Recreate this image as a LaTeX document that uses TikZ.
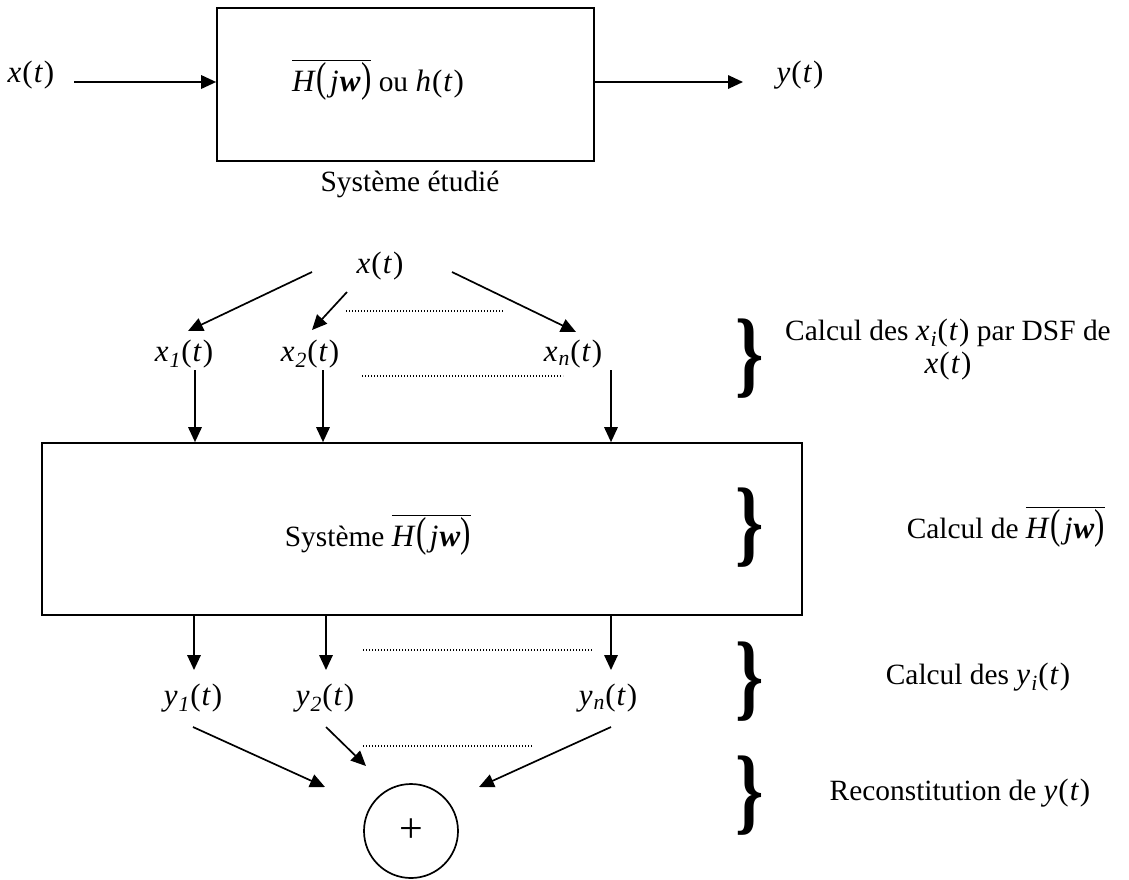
\documentclass[tikz,border=0pt]{standalone}
\usepackage{graphicx}
\usepackage{fontspec}
\setmainfont{Liberation Serif}
\usetikzlibrary{arrows.meta}
\newcommand{\mfs}{\fontsize{31}{36}\selectfont}
\newcommand{\Hjw}{\ensuremath{\overline{\hbox{\mfs\textit{H}\kern1pt\scalebox{1}[1.35]{(}\kern3pt\textit{j}\kern1pt\textbf{\textit{w}}\kern0.5pt\scalebox{1}[1.35]{)}}}}}
\newcommand{\vt}[1]{{\mfs\textit{#1}\kern1pt(\kern1pt\textit{t}\kern1pt)}}
\newcommand{\vs}[2]{{\mfs\textit{#1}\kern1pt\textsubscript{\textit{#2}}\kern0.5pt(\kern1pt\textit{t}\kern1pt)}}
\begin{document}
\begin{tikzpicture}[x=1pt,y=-1pt,font=\fontsize{29.4}{33}\selectfont,
  arr/.style={-{Triangle[length=15pt,width=13.5pt]},line width=1.7pt},
  boxs/.style={draw,line width=1.7pt,inner sep=0pt},
  dots/.style={line width=1.1pt,dash pattern=on 1.1pt off 1.9pt},
  brace/.style={inner sep=0pt,font=\fontsize{96}{96}\selectfont\bfseries},
  lbl/.style={inner sep=1pt}]
\useasboundingbox (0,0) rectangle (1129,879);
% top part
\node[lbl] (x0) at (31,75) {\vt{x}};
\node[boxs,minimum width=377pt,minimum height=153pt] (sys) at (405.5,84.5) {};
\node[lbl] (sysl) at (378,80) {\Hjw{} ou \vt{h}};
\node[lbl] (y0) at (800,75) {\vt{y}};
\node[lbl] (cap) at (410,184) {Système étudié};
\coordinate (a0) at (74,82);
\coordinate (a1) at (743,82);
\draw[arr] (a0) -- (a0 -| sys.west);
\draw[arr] (a1 -| sys.east) -- (a1);
% decomposition
\node[lbl] (x) at (380,266) {\vt{x}};
\node[lbl] (x1) at (184,354) {\vs{x}{1}};
\node[lbl] (x2) at (310,354) {\vs{x}{2}};
\node[lbl] (xn) at (573,354) {\vs{x}{n}};
\coordinate (p1) at (312,272); \coordinate (q1) at (188,331);
\coordinate (p2) at (347,292); \coordinate (q2) at (312,330);
\coordinate (p3) at (452,272); \coordinate (q3) at (576,332);
\draw[arr] (p1) -- (q1);
\draw[arr] (p2) -- (q2);
\draw[arr] (p3) -- (q3);
\coordinate (d1a) at (346,311); \coordinate (d1b) at (503,311);
\draw[dots] (d1a) -- (d1b);
% big system
\node[boxs,minimum width=760pt,minimum height=172pt] (big) at (422,529) {};
\node[lbl] (bigl) at (378,535) {Système \Hjw};
\coordinate (v1) at (195,370); \coordinate (v2) at (323,370); \coordinate (v3) at (611,370);
\draw[arr] (v1) -- (v1 |- big.north);
\draw[arr] (v2) -- (v2 |- big.north);
\draw[arr] (v3) -- (v3 |- big.north);
\coordinate (d2a) at (362,376); \coordinate (d2b) at (563,376);
\draw[dots] (d2a) -- (d2b);
% outputs
\node[lbl] (y1) at (193,698) {\vs{y}{1}};
\node[lbl] (y2) at (325,698) {\vs{y}{2}};
\node[lbl] (yn) at (608,698) {\vs{y}{n}};
\coordinate (w1) at (194,670); \coordinate (w2) at (326,670); \coordinate (w3) at (611,670);
\draw[arr] (w1 |- big.south) -- (w1);
\draw[arr] (w2 |- big.south) -- (w2);
\draw[arr] (w3 |- big.south) -- (w3);
\coordinate (d3a) at (363,650); \coordinate (d3b) at (592,650);
\draw[dots] (d3a) -- (d3b);
% sum
\node[draw,circle,line width=1.7pt,minimum size=94pt,inner sep=0pt,font=\fontsize{42}{42}\selectfont] (sum) at (411,831) {+};
\coordinate (s1) at (193,727); \coordinate (e1) at (325,787);
\coordinate (s2) at (326,727); \coordinate (e2) at (366,766);
\coordinate (s3) at (611,727); \coordinate (e3) at (479,787);
\draw[arr] (s1) -- (e1);
\draw[arr] (s2) -- (e2);
\draw[arr] (s3) -- (e3);
\coordinate (d4a) at (363,746); \coordinate (d4b) at (532,746);
\draw[dots] (d4a) -- (d4b);
% braces and comments
\node[brace] (b1) at (750,359) {\scalebox{0.75}[1]{\}}};
\node[brace] (b2) at (750,528) {\scalebox{0.75}[1]{\}}};
\node[brace] (b3) at (750,682) {\scalebox{0.75}[1]{\}}};
\node[brace] (b4) at (750,796) {\scalebox{0.75}[1]{\}}};
\node[lbl,align=center] (t1) at (948,350) {Calcul des \vs{x}{i} par DSF de\\\vt{x}};
\node[lbl] (t2) at (1006,527) {Calcul de \Hjw};
\node[lbl] (t3) at (978,677) {Calcul des \vs{y}{i}};
\node[lbl] (t4) at (960,793) {Reconstitution de \vt{y}};
\end{tikzpicture}
\end{document}
